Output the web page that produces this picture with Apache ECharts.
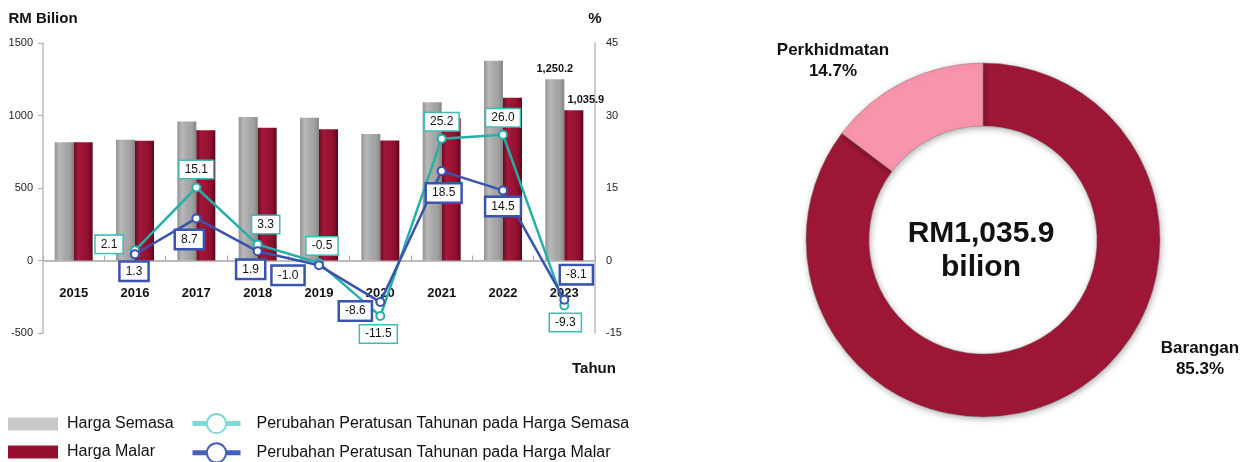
<!DOCTYPE html>
<html>
<head>
<meta charset="utf-8">
<script src="https://cdn.jsdelivr.net/npm/echarts@6/dist/echarts.min.js"></script>
<style>
  html, body { margin: 0; padding: 0; background: #fff; }
  #chart { width: 1250px; height: 462px; }
</style>
</head>
<body>
<div id="chart"></div>
<script>
// data
const years = ['2015', '2016', '2017', '2018', '2019', '2020', '2021', '2022', '2023'];
const hargaSemasa = [815, 832, 958, 990, 985, 872, 1092, 1378, 1250.2];
const hargaMalar = [815, 826, 898, 915, 906, 828, 981, 1123, 1035.9];
const ubahSemasa = [null, 2.1, 15.1, 3.3, -0.5, -11.5, 25.2, 26.0, -9.3];
const ubahMalar = [null, 1.3, 8.7, 1.9, -1.0, -8.6, 18.5, 14.5, -8.1];
const leftTicks = { min: -500, max: 1500, step: 500 };
const rightTicks = { min: -15, max: 45, step: 15 };
const pieNames = ['Barangan', 'Perkhidmatan'];
const pieShare = [85.3, 14.7];
const pieTotal = 'RM1,035.9';

// where each box label sits relative to its point (px)
const semasaShift = [null, [-26, -6], [0, -18], [8, -20], [3, -17], [-2, 18], [0, -17], [0, -17], [1, 17]];
const malarShift = [null, [-1, 17], [-7, 21], [-7, 18], [-31, 10], [-25, 9], [2, 22], [0, 16], [12, -25]];

const FONT = '"Liberation Sans", Arial, sans-serif';
const TEAL = '#22b0a9';
const BLUE = '#3852b0';

function fmtComma(v) {
  return v.toLocaleString('en-US', { minimumFractionDigits: 1, maximumFractionDigits: 1 });
}

function grad(stops) {
  return new echarts.graphic.LinearGradient(0, 0, 1, 0, stops.map((c, i) => ({ offset: i / (stops.length - 1), color: c })));
}
const grayFill = grad(['#939393', '#b9b9b9', '#a9a9a9', '#a2a2a2', '#868686']);
const redFill = grad(['#6e0922', '#a3183b', '#9a1434', '#8e102e', '#60061c']);

function barData(vals, lastOffset) {
  return vals.map((v, i) => {
    if (i !== vals.length - 1) return v;
    return {
      value: v,
      label: {
        show: true, position: 'top', distance: 5, offset: lastOffset,
        formatter: fmtComma(v), fontFamily: FONT, fontSize: 11, fontWeight: 'bold', color: '#111'
      }
    };
  });
}

function lineData(vals, shifts, border, bw) {
  return vals.map((v, i) => {
    if (v === null) return null;
    return {
      value: v,
      label: {
        show: true, position: 'inside', offset: shifts[i],
        formatter: v.toFixed(1),
        fontFamily: FONT, fontSize: 12, color: '#111',
        backgroundColor: '#fff', borderColor: border, borderWidth: bw,
        padding: [3, 5, 2, 5]
      }
    };
  });
}

const chart = echarts.init(document.getElementById('chart'));
chart.setOption({
  animation: false,
  backgroundColor: '#fff',
  textStyle: { fontFamily: FONT },
  grid: { left: 43, right: 655, top: 43, bottom: 129 },
  legend: [
    {
      orient: 'vertical', left: 8, top: 416, padding: 0, height: 80, width: 180,
      itemWidth: 50, itemHeight: 13, itemGap: 12,
      icon: 'rect',
      textStyle: { fontFamily: FONT, fontSize: 16, color: '#111', padding: [0, 0, 0, 4] },
      data: [
        { name: 'Harga Semasa', itemStyle: { color: '#c8c8c8' } },
        { name: 'Harga Malar', itemStyle: { color: '#950f2e' } }
      ]
    },
    {
      orient: 'vertical', left: 190, top: 413, padding: 0, height: 80, width: 500,
      itemWidth: 48, itemHeight: 24, itemGap: 8,
      textStyle: { fontFamily: FONT, fontSize: 16, color: '#111', padding: [0, 0, 0, 11] },
      data: [
        { name: 'Perubahan Peratusan Tahunan pada Harga Semasa', itemStyle: { color: '#7fd8d4' }, lineStyle: { color: '#7fd8d4', width: 5 } },
        { name: 'Perubahan Peratusan Tahunan pada Harga Malar', itemStyle: { color: '#4560b8' }, lineStyle: { color: '#4560b8', width: 5 } }
      ]
    }
  ],
  xAxis: {
    type: 'category',
    data: years,
    axisLine: { onZero: true, lineStyle: { color: '#bdbdbd', width: 2 } },
    axisTick: { show: true, inside: true, length: 5, lineStyle: { color: '#a8a8a8', width: 1 } },
    axisLabel: { margin: -46, fontFamily: FONT, fontSize: 13, fontWeight: 'bold', color: '#111' }
  },
  yAxis: [
    {
      type: 'value',
      min: leftTicks.min, max: leftTicks.max, interval: leftTicks.step,
      name: 'RM Bilion', nameLocation: 'end', nameGap: 17,
      nameTextStyle: { fontFamily: FONT, fontSize: 15, fontWeight: 'bold', color: '#111', align: 'center' },
      axisLine: { show: true, lineStyle: { color: '#bdbdbd', width: 1.5 } },
      axisTick: { show: true, length: 5, lineStyle: { color: '#a8a8a8' } },
      axisLabel: { margin: 10, fontFamily: FONT, fontSize: 11, color: '#222', formatter: v => String(v) },
      splitLine: { show: false }
    },
    {
      type: 'value',
      min: rightTicks.min, max: rightTicks.max, interval: rightTicks.step,
      name: '%', nameLocation: 'end', nameGap: 17,
      nameTextStyle: { fontFamily: FONT, fontSize: 15, fontWeight: 'bold', color: '#111', align: 'center' },
      axisLine: { show: true, lineStyle: { color: '#bdbdbd', width: 1.5 } },
      axisTick: { show: false },
      axisLabel: { margin: 11, fontFamily: FONT, fontSize: 11, color: '#222', formatter: v => String(v) },
      splitLine: { show: false }
    }
  ],
  series: [
    {
      name: 'Harga Semasa', type: 'bar', yAxisIndex: 0,
      barWidth: 19, barGap: '0%',
      itemStyle: { color: grayFill },
      data: barData(hargaSemasa, [0, 0])
    },
    {
      name: 'Harga Malar', type: 'bar', yAxisIndex: 0,
      barWidth: 19, barGap: '0%',
      itemStyle: { color: redFill },
      data: barData(hargaMalar, [12, 0])
    },
    {
      name: 'Perubahan Peratusan Tahunan pada Harga Semasa', type: 'line', yAxisIndex: 1,
      symbol: 'emptyCircle', symbolSize: 8,
      lineStyle: { color: TEAL, width: 2.5 },
      itemStyle: { color: TEAL, borderWidth: 2.2 },
      data: lineData(ubahSemasa, semasaShift, '#3dbcb6', 1.5),
      z: 3
    },
    {
      name: 'Perubahan Peratusan Tahunan pada Harga Malar', type: 'line', yAxisIndex: 1,
      symbol: 'emptyCircle', symbolSize: 8,
      lineStyle: { color: BLUE, width: 2.5 },
      itemStyle: { color: BLUE, borderWidth: 2.2 },
      data: lineData(ubahMalar, malarShift, '#3a53ad', 2.5),
      z: 4
    },
    {
      name: 'Komposisi', type: 'pie',
      center: [983, 240], radius: [114, 177],
      startAngle: 90, clockwise: true,
      avoidLabelOverlap: false,
      itemStyle: {
        borderColor: 'rgba(120,120,120,0.45)', borderWidth: 1,
        shadowBlur: 6, shadowColor: 'rgba(0,0,0,0.3)', shadowOffsetX: 1, shadowOffsetY: 2
      },
      label: {
        show: true, position: 'outside',
        formatter: p => p.name + '\n' + p.value.toFixed(1) + '%',
        fontFamily: FONT, fontSize: 17, fontWeight: 'bold', color: '#111',
        lineHeight: 21, align: 'center'
      },
      labelLine: { show: false },
      labelLayout: p => p.dataIndex === 0
        ? { x: 1200, y: 359, align: 'center', verticalAlign: 'middle' }
        : { x: 833, y: 61, align: 'center', verticalAlign: 'middle' },
      emphasis: { disabled: true },
      data: pieNames.map((n, i) => ({
        name: n, value: pieShare[i],
        itemStyle: { color: i === 0 ? '#9e1737' : '#f994ad' }
      }))
    }
  ],
  graphic: [
    {
      type: 'text', x: 594, y: 369,
      style: { text: 'Tahun', fontFamily: FONT, fontSize: 15, fontWeight: 'bold', fill: '#111', textAlign: 'center', textVerticalAlign: 'middle' }
    },
    {
      type: 'text', x: 981, y: 251,
      style: { text: pieTotal + '\nbilion', fontFamily: FONT, fontSize: 30, fontWeight: 'bold', fill: '#111', lineHeight: 34, textAlign: 'center', textVerticalAlign: 'middle' }
    }
  ]
});
</script>
</body>
</html>
